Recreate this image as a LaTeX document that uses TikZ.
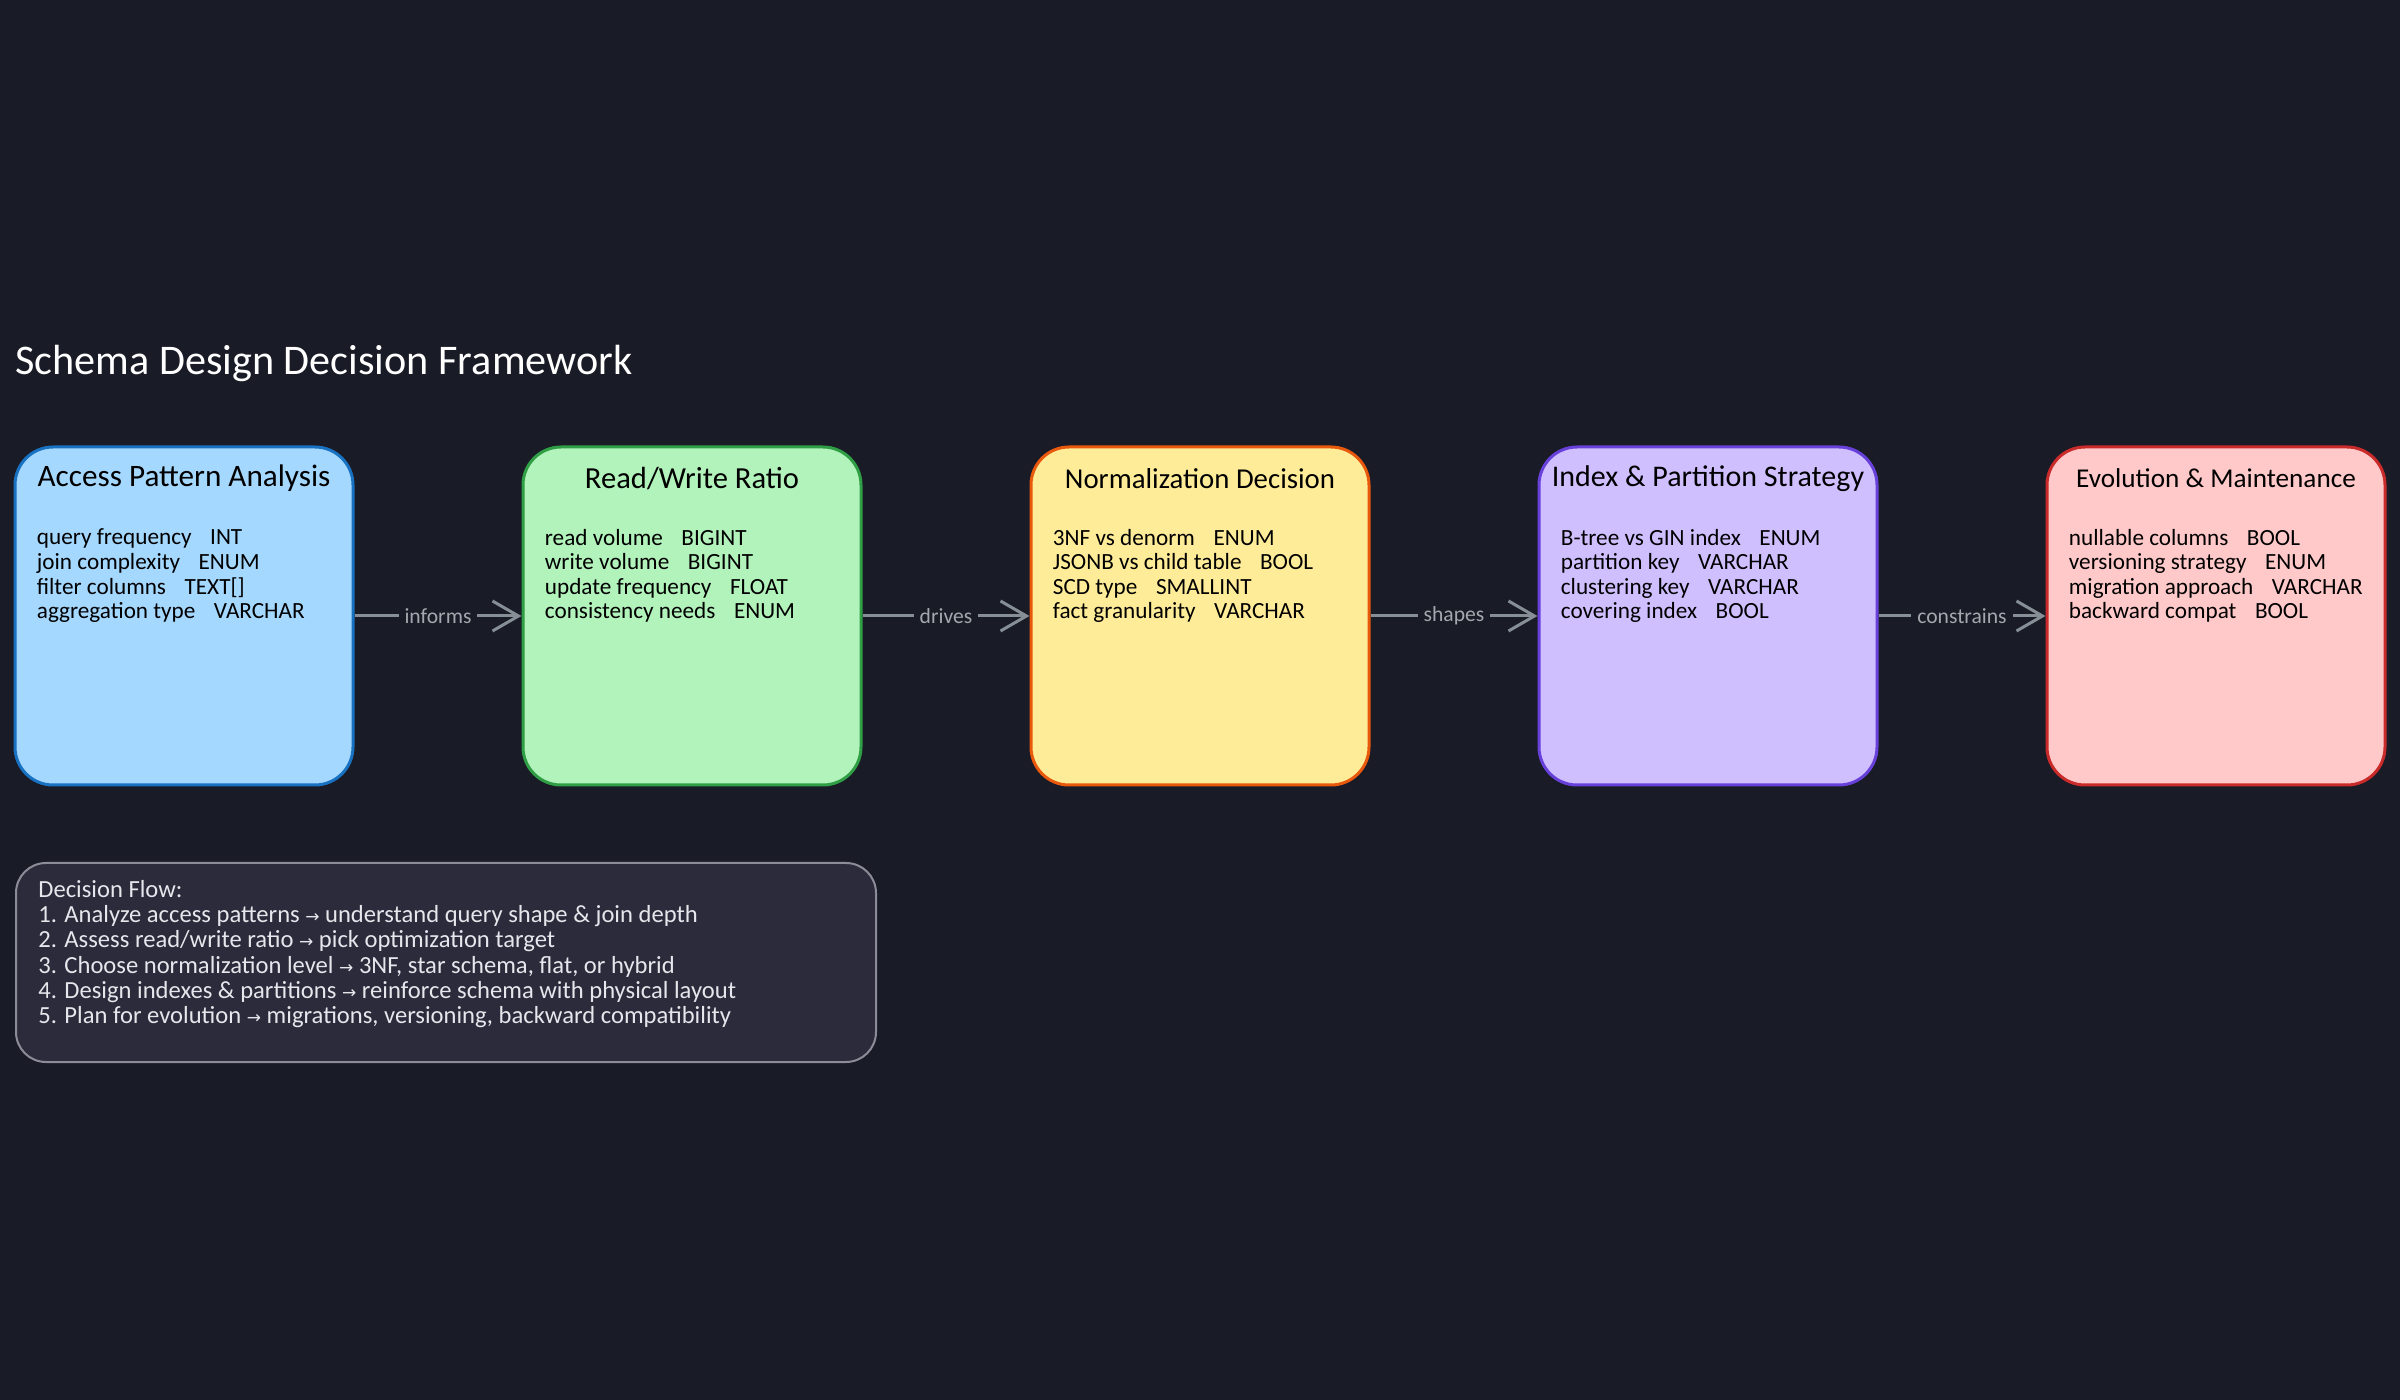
\documentclass[tikz,border=0pt]{standalone}
\usepackage{fontspec}
\setmainfont{Carlito}
\newfontfamily\symf{DejaVu Sans}
\usetikzlibrary{arrows.meta}
\definecolor{bg}{HTML}{191B26}
\definecolor{notefill}{HTML}{2C2B3B}
\definecolor{noteline}{HTML}{8C8C98}
\definecolor{notetext}{HTML}{E6E6EC}
\definecolor{conncol}{HTML}{868E96}
\definecolor{lblcol}{HTML}{A3A8AE}
\definecolor{fa}{HTML}{A5D8FF}\definecolor{la}{HTML}{1971C2}
\definecolor{fb}{HTML}{B2F2BB}\definecolor{lb}{HTML}{2F9E44}
\definecolor{fc}{HTML}{FFEC99}\definecolor{lc}{HTML}{E8590C}
\definecolor{fd}{HTML}{D0BFFF}\definecolor{ld}{HTML}{6741D9}
\definecolor{fe}{HTML}{FFC9C9}\definecolor{le}{HTML}{C92A2A}
\newcommand{\ar}{{\symf\fontsize{8.5}{10}\selectfont →}}
\newcommand{\gp}{\hspace{0.8em}}
\newcommand{\tsz}[1]{\fontsize{#1}{18}\selectfont}
\begin{document}
\begin{tikzpicture}[x=0.5pt,y=-0.5pt,
  stagebox/.style={rectangle, rounded corners=19pt, line width=1.5pt, minimum width=169pt, minimum height=169pt, inner sep=0pt},
  stagetitle/.style={inner sep=0pt, text=black},
  fields/.style={inner sep=0pt, text=black, align=left, font=\fontsize{11.6}{12.3}\selectfont},
  conn/.style={draw=conncol, line width=1.5pt, -{Straight Barb[length=13pt,width=15pt,line width=1.5pt]}},
  lbl/.style={fill=bg, text=lblcol, inner sep=3pt, font=\fontsize{10.8}{12}\selectfont}]
\fill[bg] (0,0) rectangle (2400,1400);
\useasboundingbox (0,0) rectangle (2400,1400);

\node[anchor=base west, inner sep=0pt, text=white, font=\fontsize{21.1}{24}\selectfont] (title) at (15,375) {Schema Design Decision Framework};

\node[stagebox, fill=fa, draw=la] (b1) at (184,616) {};
\node[stagebox, fill=fb, draw=lb] (b2) at (692,616) {};
\node[stagebox, fill=fc, draw=lc] (b3) at (1200,616) {};
\node[stagebox, fill=fd, draw=ld] (b4) at (1708,616) {};
\node[stagebox, fill=fe, draw=le] (b5) at (2216,616) {};

\node[stagetitle, font=\tsz{15.6}] (t1) at ([yshift=-16.5pt]b1.north) {Access Pattern Analysis};
\node[stagetitle, font=\tsz{15.3}] (t2) at ([yshift=-16.5pt]b2.north) {Read/Write Ratio};
\node[stagetitle, font=\tsz{14.4}] (t3) at ([yshift=-16.5pt]b3.north) {Normalization Decision};
\node[stagetitle, font=\tsz{15.0}] (t4) at ([yshift=-16.5pt]b4.north) {Index \& Partition Strategy};
\node[stagetitle, font=\tsz{13.6}] (t5) at ([yshift=-16.5pt]b5.north) {Evolution \& Maintenance};

\node[fields, anchor=north west] (f1) at ([xshift=11.5pt,yshift=-41.5pt]b1.north west) {query frequency\gp INT\\join complexity\gp ENUM\\filter columns\gp TEXT[]\\aggregation type\gp VARCHAR};
\node[fields, anchor=north west] (f2) at ([xshift=11.5pt,yshift=-41.5pt]b2.north west) {read volume\gp BIGINT\\write volume\gp BIGINT\\update frequency\gp FLOAT\\consistency needs\gp ENUM};
\node[fields, anchor=north west] (f3) at ([xshift=11.5pt,yshift=-41.5pt]b3.north west) {3NF vs denorm\gp ENUM\\JSONB vs child table\gp BOOL\\SCD type\gp SMALLINT\\fact granularity\gp VARCHAR};
\node[fields, anchor=north west] (f4) at ([xshift=11.5pt,yshift=-41.5pt]b4.north west) {B-tree vs GIN index\gp ENUM\\partition key\gp VARCHAR\\clustering key\gp VARCHAR\\covering index\gp BOOL};
\node[fields, anchor=north west] (f5) at ([xshift=11.5pt,yshift=-41.5pt]b5.north west) {nullable columns\gp BOOL\\versioning strategy\gp ENUM\\migration approach\gp VARCHAR\\backward compat\gp BOOL};

\draw[conn] (b1.east) -- node[lbl] (l1) {informs} (b2.west);
\draw[conn] (b2.east) -- node[lbl] (l2) {drives} (b3.west);
\draw[conn] (b3.east) -- node[lbl] (l3) {shapes} (b4.west);
\draw[conn] (b4.east) -- node[lbl] (l4) {constrains} (b5.west);

\node[rectangle, rounded corners=15pt, fill=notefill, draw=noteline, line width=1pt, anchor=north west, minimum width=430pt, minimum height=99.5pt, inner sep=0pt] (note) at (15,862) {};
\node[anchor=north west, inner sep=0pt, align=left, text=notetext, font=\fontsize{12.3}{12.6}\selectfont] (notetxt) at ([xshift=11.5pt,yshift=-9pt]note.north west) {Decision Flow:\\
1. Analyze access patterns \ar{} understand query shape \& join depth\\
2. Assess read/write ratio \ar{} pick optimization target\\
3. Choose normalization level \ar{} 3NF, star schema, flat, or hybrid\\
4. Design indexes \& partitions \ar{} reinforce schema with physical layout\\
5. Plan for evolution \ar{} migrations, versioning, backward compatibility};
\end{tikzpicture}
\end{document}
